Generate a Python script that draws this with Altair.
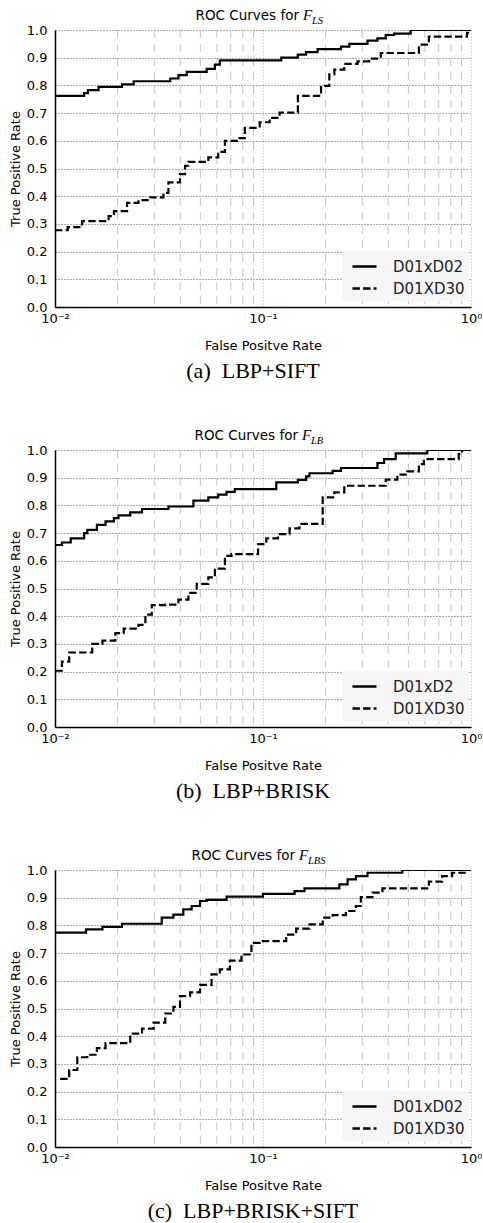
import altair as alt
import pandas as pd

# ---------------- data ----------------
x_major = [0.01, 0.1, 1.0]
x_minor = [0.02, 0.03, 0.04, 0.05, 0.06, 0.07, 0.08, 0.09,
           0.2, 0.3, 0.4, 0.5, 0.6, 0.7, 0.8, 0.9]
y_ticks = [0.0, 0.1, 0.2, 0.3, 0.4, 0.5, 0.6, 0.7, 0.8, 0.9, 1.0]

# (a) LBP+SIFT
a_solid_fpr = [0.01, 0.0138, 0.0144, 0.0162, 0.021, 0.0239, 0.0358, 0.0392, 0.043, 0.0536,
               0.0587, 0.062, 0.1224, 0.147, 0.161, 0.183, 0.237, 0.26, 0.318, 0.355,
               0.389, 0.427, 0.513, 1.0]
a_solid_tpr = [0.762, 0.772, 0.783, 0.795, 0.804, 0.815, 0.825, 0.837, 0.849, 0.86,
               0.875, 0.89, 0.9, 0.911, 0.92, 0.931, 0.94, 0.95, 0.962, 0.97,
               0.982, 0.987, 1.0, 1.0]
a_dash_fpr = [0.01, 0.0115, 0.0135, 0.0181, 0.0192, 0.0222, 0.0252, 0.0287, 0.0332, 0.0351,
              0.0399, 0.0422, 0.0438, 0.0546, 0.0609, 0.0656, 0.0759, 0.0818, 0.0964, 0.1076,
              0.1202, 0.1471, 0.1901, 0.2084, 0.2203, 0.2459, 0.2848, 0.3239, 0.3684, 0.5617,
              0.6273, 0.957, 1.0]
a_dash_tpr = [0.277, 0.288, 0.31, 0.328, 0.346, 0.376, 0.386, 0.396, 0.412, 0.45,
              0.48, 0.51, 0.524, 0.54, 0.56, 0.6, 0.61, 0.647, 0.667, 0.683,
              0.702, 0.762, 0.798, 0.84, 0.857, 0.878, 0.887, 0.897, 0.917, 0.947,
              0.976, 0.99, 0.99]

# (b) LBP+BRISK
b_solid_fpr = [0.01, 0.0108, 0.0119, 0.0138, 0.0143, 0.0159, 0.0175, 0.0192, 0.0202, 0.023,
               0.0262, 0.0351, 0.0463, 0.0546, 0.0609, 0.0668, 0.0732, 0.1158, 0.1471, 0.1612,
               0.1672, 0.2162, 0.2371, 0.355, 0.382, 0.4345, 0.6159, 1.0]
b_solid_tpr = [0.657, 0.666, 0.681, 0.7, 0.712, 0.73, 0.742, 0.754, 0.764, 0.775,
               0.787, 0.796, 0.817, 0.829, 0.839, 0.849, 0.859, 0.883, 0.892, 0.905,
               0.916, 0.925, 0.935, 0.953, 0.967, 0.988, 1.0, 1.0]
b_dash_fpr = [0.01, 0.0108, 0.0117, 0.0151, 0.0169, 0.0195, 0.0214, 0.0252, 0.0272, 0.0292,
              0.0339, 0.0392, 0.0438, 0.048, 0.0546, 0.0587, 0.0656, 0.0706, 0.0947, 0.1037,
              0.118, 0.1342, 0.1498, 0.1937, 0.2203, 0.2459, 0.3891, 0.4425, 0.4941, 0.5617,
              0.5937, 0.873, 0.9056, 1.0]
b_dash_tpr = [0.203, 0.236, 0.269, 0.3, 0.312, 0.339, 0.355, 0.369, 0.406, 0.44,
              0.442, 0.46, 0.484, 0.517, 0.54, 0.572, 0.618, 0.624, 0.66, 0.681,
              0.696, 0.717, 0.733, 0.829, 0.847, 0.871, 0.893, 0.911, 0.923, 0.949,
              0.967, 0.986, 1.0, 1.0]

# (c) LBP+BRISK+SIFT
c_solid_fpr = [0.01, 0.0141, 0.0169, 0.021, 0.0326, 0.0371, 0.0414, 0.0454, 0.0498, 0.0536,
               0.0668, 0.1, 0.1418, 0.1583, 0.2328, 0.2551, 0.2796, 0.3179, 0.4677, 1.0]
c_solid_tpr = [0.774, 0.786, 0.795, 0.806, 0.828, 0.839, 0.858, 0.87, 0.888, 0.892,
               0.904, 0.914, 0.924, 0.934, 0.948, 0.966, 0.978, 0.99, 1.0, 1.0]
c_dash_fpr = [0.0106, 0.0117, 0.0128, 0.0143, 0.0159, 0.0175, 0.023, 0.0262, 0.0298, 0.0339,
              0.0371, 0.0399, 0.0446, 0.0498, 0.0566, 0.062, 0.0693, 0.0788, 0.088, 0.0964,
              0.1293, 0.1444, 0.1672, 0.1937, 0.2162, 0.2504, 0.2796, 0.2954, 0.336, 0.3752,
              0.6273, 0.7266, 0.8112, 0.957, 1.0]
c_dash_tpr = [0.246, 0.278, 0.324, 0.333, 0.357, 0.375, 0.409, 0.427, 0.449, 0.482,
              0.506, 0.545, 0.558, 0.585, 0.623, 0.641, 0.673, 0.695, 0.737, 0.743,
              0.767, 0.788, 0.804, 0.828, 0.837, 0.852, 0.87, 0.902, 0.918, 0.934,
              0.958, 0.978, 0.99, 1.0, 1.0]

W, H = 416, 277
LABEL_EXPR = ("datum.value < 0.05 ? '10\u207b\u00b2' : "
              "datum.value < 0.5 ? '10\u207b\u00b9' : '10\u2070'")


def panel(sf, st, df_, dt, names, sub, caption, tx):
    data = pd.concat([
        pd.DataFrame({"fpr": sf, "tpr": st, "series": names[0]}),
        pd.DataFrame({"fpr": df_, "tpr": dt, "series": names[1]}),
    ])
    xscale = alt.Scale(type="log", domain=[0.01, 1.0], nice=False)
    yscale = alt.Scale(domain=[0, 1], nice=False)
    xaxis = alt.Axis(values=x_major, grid=True, gridDash=[1, 2], gridColor="#b0b0b0",
                     labelExpr=LABEL_EXPR, labelFlush=False, labelOverlap=False,
                     labelPadding=5, titlePadding=14)

    minor = alt.Chart(pd.DataFrame({"m": x_minor})).mark_rule(
        color="#c4c4c4", strokeWidth=1, strokeDash=[8, 6]
    ).encode(x=alt.X("m:Q", scale=xscale, title="False Positve Rate", axis=xaxis))

    lines = alt.Chart(data).mark_line(
        interpolate="step-after", color="black", strokeWidth=2.2, clip=True
    ).encode(
        x=alt.X("fpr:Q", scale=xscale, title="False Positve Rate", axis=xaxis),
        y=alt.Y("tpr:Q", scale=yscale, title="True Positive Rate",
                axis=alt.Axis(values=y_ticks, format=".1f", grid=True, gridDash=[1, 2],
                              gridColor="#555555", labelPadding=8, titlePadding=4)),
        strokeDash=alt.StrokeDash(
            "series:N",
            scale=alt.Scale(domain=names, range=[[1, 0], [7.4, 3.2]]),
            legend=alt.Legend(
                title=None, orient="none", legendX=287, legendY=221,
                fillColor="#f5f5f5", padding=4, rowPadding=2,
                symbolType="M-1.2,0H1.2", symbolSize=400, symbolOffset=7,
                symbolStrokeWidth=2.4, symbolStrokeColor="black",
                labelFontSize=15, labelFont="DejaVu Sans", labelColor="#222222",
                labelOffset=17,
            ),
        ),
    )

    one = pd.DataFrame({"k": [0]})
    t1 = alt.Chart(one).mark_text(
        align="right", baseline="alphabetic", font="DejaVu Sans", fontSize=13.5, color="black"
    ).encode(x=alt.value(tx + 105), y=alt.value(-10), text=alt.value("ROC Curves for"))
    t2 = alt.Chart(one).mark_text(
        align="left", baseline="alphabetic", font="Liberation Serif", fontStyle="italic",
        fontSize=15, color="black"
    ).encode(x=alt.value(tx + 109), y=alt.value(-10), text=alt.value("F"))
    t3 = alt.Chart(one).mark_text(
        align="left", baseline="alphabetic", font="Liberation Serif", fontStyle="italic",
        fontSize=10.5, color="black"
    ).encode(x=alt.value(tx + 118), y=alt.value(-6.5), text=alt.value(sub))

    return alt.layer(minor, lines, t1, t2, t3).properties(
        width=W, height=H,
        title=alt.TitleParams(text=caption, orient="bottom", font="Liberation Serif",
                              fontSize=22, fontWeight="normal", color="black",
                              anchor="middle", dx=-10, offset=9),
    )


pa = panel(a_solid_fpr, a_solid_tpr, a_dash_fpr, a_dash_tpr, ["D01xD02", "D01XD30"], "LS",
           "(a)\u00a0 LBP+SIFT", 139)
pb = panel(b_solid_fpr, b_solid_tpr, b_dash_fpr, b_dash_tpr, ["D01xD2", "D01XD30"], "LB",
           "(b)\u00a0 LBP+BRISK", 138)
pc = panel(c_solid_fpr, c_solid_tpr, c_dash_fpr, c_dash_tpr, ["D01xD02", "D01XD30"], "LBS",
           "(c)\u00a0 LBP+BRISK+SIFT", 135)

chart = alt.vconcat(pa, pb, pc, spacing=46).resolve_scale(strokeDash="independent").properties(
    padding={"left": 9, "top": 8, "right": 0, "bottom": 0},
    background="white",
).configure_view(stroke=None).configure_axis(
    domainColor="black", domainWidth=1.5, ticks=False,
    labelFont="DejaVu Sans", labelFontSize=13, labelColor="black",
    titleFont="DejaVu Sans", titleFontSize=13, titleFontWeight="normal", titleColor="black",
)

chart.save("out.html", embed_options={"renderer": "svg", "actions": False})
